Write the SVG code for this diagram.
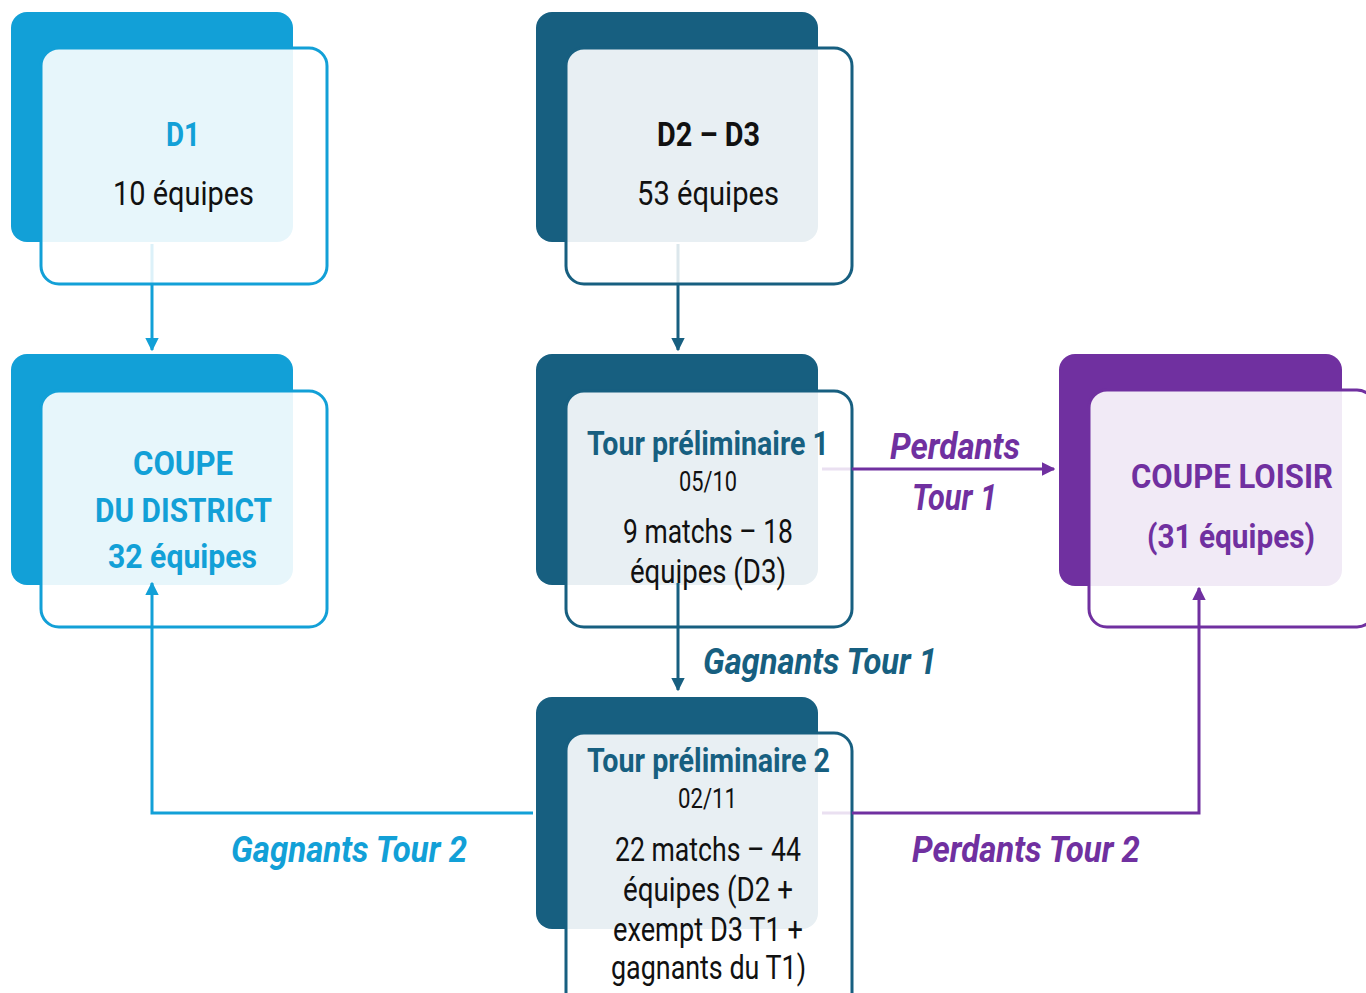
<svg xmlns="http://www.w3.org/2000/svg" width="1366" height="993" viewBox="0 0 1366 993">
<style>
.bg{fill:#ffffff}
.back-b{fill:#12a0d7}
.back-t{fill:#175f80}
.back-p{fill:#7030a0}
.front{fill:#ffffff;fill-opacity:0.9;stroke-width:3}
.fs-b{stroke:#12a0d7}
.fs-t{stroke:#175f80}
.fs-p{stroke:#7030a0}
text{font-family:Roboto,"Liberation Sans",sans-serif}
.title{font-weight:bold;font-size:33px}
.body{font-size:33px;fill:#111111}
.date{font-size:27px;fill:#111111}
.lbl{font-weight:bold;font-style:italic;font-size:36px}
.c-b{fill:#12a0d7}
.c-t{fill:#175f80}
.c-p{fill:#7030a0}
.c-k{fill:#111111}
.ln{fill:none;stroke-width:3}
.lb{stroke:#12a0d7}
.lt{stroke:#175f80}
.lp{stroke:#7030a0}
.stub{opacity:0.15}
</style>
<defs>
<marker id="ab" viewBox="0 0 10 10" refX="9" refY="5" markerWidth="4.5" markerHeight="4.5" orient="auto" markerUnits="strokeWidth"><path d="M0,0 L10,5 L0,10 z" fill="#12a0d7"/></marker>
<marker id="at" viewBox="0 0 10 10" refX="9" refY="5" markerWidth="4.5" markerHeight="4.5" orient="auto" markerUnits="strokeWidth"><path d="M0,0 L10,5 L0,10 z" fill="#175f80"/></marker>
<marker id="ap" viewBox="0 0 10 10" refX="9" refY="5" markerWidth="4.5" markerHeight="4.5" orient="auto" markerUnits="strokeWidth"><path d="M0,0 L10,5 L0,10 z" fill="#7030a0"/></marker>
</defs>
<rect class="bg" x="0" y="0" width="1366" height="993"/>

<g id="node-d1">
<rect class="back-b" x="11" y="12" width="282" height="230" rx="16"/>
<rect class="front fs-b" x="41" y="48" width="286" height="236" rx="18"/>
<text class="title c-b" x="166" y="146" textLength="34" lengthAdjust="spacingAndGlyphs">D1</text>
<text class="body" x="113" y="205" textLength="141" lengthAdjust="spacingAndGlyphs">10 équipes</text>
</g>

<g id="node-d2d3">
<rect class="back-t" x="536" y="12" width="282" height="230" rx="16"/>
<rect class="front fs-t" x="566" y="48" width="286" height="236" rx="18"/>
<text class="title c-k" x="657" y="146" textLength="103" lengthAdjust="spacingAndGlyphs">D2 – D3</text>
<text class="body" x="637" y="205" textLength="142" lengthAdjust="spacingAndGlyphs">53 équipes</text>
</g>

<g id="node-coupe-district">
<rect class="back-b" x="11" y="354" width="282" height="231" rx="16"/>
<rect class="front fs-b" x="41" y="391" width="286" height="236" rx="18"/>
<text class="title c-b" x="133" y="475" textLength="100" lengthAdjust="spacingAndGlyphs">COUPE</text>
<text class="title c-b" x="95" y="522" textLength="177" lengthAdjust="spacingAndGlyphs">DU DISTRICT</text>
<text class="title c-b" x="108" y="568" textLength="149" lengthAdjust="spacingAndGlyphs">32 équipes</text>
</g>

<g id="node-tour1">
<rect class="back-t" x="536" y="354" width="282" height="231" rx="16"/>
<rect class="front fs-t" x="566" y="391" width="286" height="236" rx="18"/>
<text class="title c-t" x="587" y="455" textLength="242" lengthAdjust="spacingAndGlyphs">Tour préliminaire 1</text>
<text class="date" x="679" y="491" textLength="58" lengthAdjust="spacingAndGlyphs">05/10</text>
<text class="body" x="623" y="543" textLength="170" lengthAdjust="spacingAndGlyphs">9 matchs – 18</text>
<text class="body" x="630" y="583" textLength="156" lengthAdjust="spacingAndGlyphs">équipes (D3)</text>
</g>

<g id="node-coupe-loisir">
<rect class="back-p" x="1059" y="354" width="283" height="232" rx="16"/>
<rect class="front fs-p" x="1089" y="390" width="286" height="237" rx="18"/>
<text class="title c-p" x="1131" y="488" textLength="202" lengthAdjust="spacingAndGlyphs">COUPE LOISIR</text>
<text class="title c-p" x="1147" y="548" textLength="168" lengthAdjust="spacingAndGlyphs">(31 équipes)</text>
</g>

<g id="node-tour2">
<rect class="back-t" x="536" y="697" width="282" height="232" rx="16"/>
<rect class="front fs-t" x="566" y="733" width="286" height="280" rx="18"/>
<text class="title c-t" x="587" y="772" textLength="243" lengthAdjust="spacingAndGlyphs">Tour préliminaire 2</text>
<text class="date" x="678" y="808" textLength="59" lengthAdjust="spacingAndGlyphs">02/11</text>
<text class="body" x="615" y="861" textLength="186" lengthAdjust="spacingAndGlyphs">22 matchs – 44</text>
<text class="body" x="623" y="901" textLength="170" lengthAdjust="spacingAndGlyphs">équipes (D2 +</text>
<text class="body" x="613" y="941" textLength="190" lengthAdjust="spacingAndGlyphs">exempt D3 T1 +</text>
<text class="body" x="611" y="979" textLength="195" lengthAdjust="spacingAndGlyphs">gagnants du T1)</text>
</g>

<g id="connectors">
<line class="ln lb stub" x1="152" y1="244" x2="152" y2="284"/>
<path class="ln lb" d="M152,284 L152,350" marker-end="url(#ab)"/>
<line class="ln lt stub" x1="678" y1="244" x2="678" y2="284"/>
<path class="ln lt" d="M678,284 L678,350" marker-end="url(#at)"/>
<path class="ln lt" d="M678,583 L678,690" marker-end="url(#at)"/>
<line class="ln lp stub" x1="822" y1="469" x2="852" y2="469"/>
<path class="ln lp" d="M852,469 L1054,469" marker-end="url(#ap)"/>
<path class="ln lb" d="M533,813 L152,813 L152,583" marker-end="url(#ab)"/>
<line class="ln lp stub" x1="822" y1="813" x2="852" y2="813"/>
<path class="ln lp" d="M852,813 L1199,813 L1199,588" marker-end="url(#ap)"/>
<text class="lbl c-p" x="890" y="459" textLength="130" lengthAdjust="spacingAndGlyphs">Perdants</text>
<text class="lbl c-p" x="912" y="510" textLength="85" lengthAdjust="spacingAndGlyphs">Tour 1</text>
<text class="lbl c-t" x="703" y="674" textLength="234" lengthAdjust="spacingAndGlyphs">Gagnants Tour 1</text>
<text class="lbl c-b" x="231" y="862" textLength="236" lengthAdjust="spacingAndGlyphs">Gagnants Tour 2</text>
<text class="lbl c-p" x="912" y="862" textLength="228" lengthAdjust="spacingAndGlyphs">Perdants Tour 2</text>
</g>
</svg>
